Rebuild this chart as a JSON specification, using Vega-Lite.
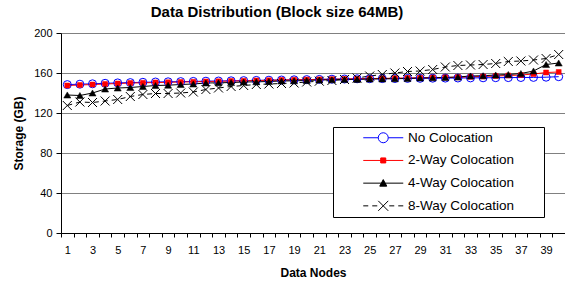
{
  "$schema": "https://vega.github.io/schema/vega-lite/v6.json",
  "autosize": {"type": "none"},
  "width": 504,
  "height": 200,
  "padding": {"left": 61, "top": 33, "right": 0, "bottom": 50},
  "background": "white",
  "config": {"font": "Liberation Sans", "view": {"stroke": null}},
  "title": {"text": "Data Distribution (Block size 64MB)", "fontSize": 15, "fontWeight": "bold", "font": "Liberation Sans", "anchor": "middle", "dx": -36, "offset": 7, "color": "black"},
  "data": {"values": [
{"node":1,"series":"No Colocation","gb":148.4},{"node":2,"series":"No Colocation","gb":148.8},{"node":3,"series":"No Colocation","gb":149.2},{"node":4,"series":"No Colocation","gb":149.7},{"node":5,"series":"No Colocation","gb":150.1},{"node":6,"series":"No Colocation","gb":150.4},{"node":7,"series":"No Colocation","gb":150.7},{"node":8,"series":"No Colocation","gb":151},{"node":9,"series":"No Colocation","gb":151.2},{"node":10,"series":"No Colocation","gb":151.4},{"node":11,"series":"No Colocation","gb":151.6},{"node":12,"series":"No Colocation","gb":151.8},{"node":13,"series":"No Colocation","gb":152},{"node":14,"series":"No Colocation","gb":152.2},{"node":15,"series":"No Colocation","gb":152.4},{"node":16,"series":"No Colocation","gb":152.6},{"node":17,"series":"No Colocation","gb":152.8},{"node":18,"series":"No Colocation","gb":153},{"node":19,"series":"No Colocation","gb":153.2},{"node":20,"series":"No Colocation","gb":153.4},{"node":21,"series":"No Colocation","gb":153.6},{"node":22,"series":"No Colocation","gb":153.8},{"node":23,"series":"No Colocation","gb":154},{"node":24,"series":"No Colocation","gb":154.2},{"node":25,"series":"No Colocation","gb":154.3},{"node":26,"series":"No Colocation","gb":154.4},{"node":27,"series":"No Colocation","gb":154.5},{"node":28,"series":"No Colocation","gb":154.6},{"node":29,"series":"No Colocation","gb":154.7},{"node":30,"series":"No Colocation","gb":154.8},{"node":31,"series":"No Colocation","gb":154.9},{"node":32,"series":"No Colocation","gb":155},{"node":33,"series":"No Colocation","gb":155.1},{"node":34,"series":"No Colocation","gb":155.2},{"node":35,"series":"No Colocation","gb":155.3},{"node":36,"series":"No Colocation","gb":155.4},{"node":37,"series":"No Colocation","gb":155.5},{"node":38,"series":"No Colocation","gb":155.6},{"node":39,"series":"No Colocation","gb":155.8},{"node":40,"series":"No Colocation","gb":156.3},
{"node":1,"series":"2-Way Colocation","gb":147.5},{"node":2,"series":"2-Way Colocation","gb":148},{"node":3,"series":"2-Way Colocation","gb":148.5},{"node":4,"series":"2-Way Colocation","gb":149},{"node":5,"series":"2-Way Colocation","gb":149.5},{"node":6,"series":"2-Way Colocation","gb":150},{"node":7,"series":"2-Way Colocation","gb":150.2},{"node":8,"series":"2-Way Colocation","gb":150.5},{"node":9,"series":"2-Way Colocation","gb":150.7},{"node":10,"series":"2-Way Colocation","gb":151},{"node":11,"series":"2-Way Colocation","gb":151.2},{"node":12,"series":"2-Way Colocation","gb":151.5},{"node":13,"series":"2-Way Colocation","gb":151.7},{"node":14,"series":"2-Way Colocation","gb":152},{"node":15,"series":"2-Way Colocation","gb":152.2},{"node":16,"series":"2-Way Colocation","gb":152.5},{"node":17,"series":"2-Way Colocation","gb":152.7},{"node":18,"series":"2-Way Colocation","gb":153},{"node":19,"series":"2-Way Colocation","gb":153.2},{"node":20,"series":"2-Way Colocation","gb":153.4},{"node":21,"series":"2-Way Colocation","gb":153.6},{"node":22,"series":"2-Way Colocation","gb":153.8},{"node":23,"series":"2-Way Colocation","gb":154},{"node":24,"series":"2-Way Colocation","gb":154.2},{"node":25,"series":"2-Way Colocation","gb":154.4},{"node":26,"series":"2-Way Colocation","gb":154.6},{"node":27,"series":"2-Way Colocation","gb":154.8},{"node":28,"series":"2-Way Colocation","gb":155},{"node":29,"series":"2-Way Colocation","gb":155.2},{"node":30,"series":"2-Way Colocation","gb":155.4},{"node":31,"series":"2-Way Colocation","gb":155.6},{"node":32,"series":"2-Way Colocation","gb":155.8},{"node":33,"series":"2-Way Colocation","gb":156.2},{"node":34,"series":"2-Way Colocation","gb":156.5},{"node":35,"series":"2-Way Colocation","gb":157},{"node":36,"series":"2-Way Colocation","gb":157.5},{"node":37,"series":"2-Way Colocation","gb":158},{"node":38,"series":"2-Way Colocation","gb":159},{"node":39,"series":"2-Way Colocation","gb":160.5},{"node":40,"series":"2-Way Colocation","gb":161},
{"node":1,"series":"4-Way Colocation","gb":138},{"node":2,"series":"4-Way Colocation","gb":137.5},{"node":3,"series":"4-Way Colocation","gb":140},{"node":4,"series":"4-Way Colocation","gb":144},{"node":5,"series":"4-Way Colocation","gb":145},{"node":6,"series":"4-Way Colocation","gb":145.5},{"node":7,"series":"4-Way Colocation","gb":146.5},{"node":8,"series":"4-Way Colocation","gb":147.5},{"node":9,"series":"4-Way Colocation","gb":147.8},{"node":10,"series":"4-Way Colocation","gb":148.5},{"node":11,"series":"4-Way Colocation","gb":149},{"node":12,"series":"4-Way Colocation","gb":150},{"node":13,"series":"4-Way Colocation","gb":150.2},{"node":14,"series":"4-Way Colocation","gb":150.5},{"node":15,"series":"4-Way Colocation","gb":151},{"node":16,"series":"4-Way Colocation","gb":151.2},{"node":17,"series":"4-Way Colocation","gb":151.5},{"node":18,"series":"4-Way Colocation","gb":152},{"node":19,"series":"4-Way Colocation","gb":152.2},{"node":20,"series":"4-Way Colocation","gb":152.5},{"node":21,"series":"4-Way Colocation","gb":153},{"node":22,"series":"4-Way Colocation","gb":153.2},{"node":23,"series":"4-Way Colocation","gb":153.5},{"node":24,"series":"4-Way Colocation","gb":153.6},{"node":25,"series":"4-Way Colocation","gb":154},{"node":26,"series":"4-Way Colocation","gb":154.1},{"node":27,"series":"4-Way Colocation","gb":154.3},{"node":28,"series":"4-Way Colocation","gb":154.5},{"node":29,"series":"4-Way Colocation","gb":155},{"node":30,"series":"4-Way Colocation","gb":155.2},{"node":31,"series":"4-Way Colocation","gb":155.5},{"node":32,"series":"4-Way Colocation","gb":156},{"node":33,"series":"4-Way Colocation","gb":157},{"node":34,"series":"4-Way Colocation","gb":157.3},{"node":35,"series":"4-Way Colocation","gb":158},{"node":36,"series":"4-Way Colocation","gb":158.5},{"node":37,"series":"4-Way Colocation","gb":159.5},{"node":38,"series":"4-Way Colocation","gb":162},{"node":39,"series":"4-Way Colocation","gb":168.5},{"node":40,"series":"4-Way Colocation","gb":170},
{"node":1,"series":"8-Way Colocation","gb":127.5},{"node":2,"series":"8-Way Colocation","gb":131},{"node":3,"series":"8-Way Colocation","gb":130.5},{"node":4,"series":"8-Way Colocation","gb":132},{"node":5,"series":"8-Way Colocation","gb":133.5},{"node":6,"series":"8-Way Colocation","gb":136.5},{"node":7,"series":"8-Way Colocation","gb":138.5},{"node":8,"series":"8-Way Colocation","gb":139.5},{"node":9,"series":"8-Way Colocation","gb":139.5},{"node":10,"series":"8-Way Colocation","gb":140},{"node":11,"series":"8-Way Colocation","gb":141},{"node":12,"series":"8-Way Colocation","gb":143.5},{"node":13,"series":"8-Way Colocation","gb":145},{"node":14,"series":"8-Way Colocation","gb":146.5},{"node":15,"series":"8-Way Colocation","gb":147.5},{"node":16,"series":"8-Way Colocation","gb":148.5},{"node":17,"series":"8-Way Colocation","gb":149},{"node":18,"series":"8-Way Colocation","gb":149.5},{"node":19,"series":"8-Way Colocation","gb":150},{"node":20,"series":"8-Way Colocation","gb":151},{"node":21,"series":"8-Way Colocation","gb":151.8},{"node":22,"series":"8-Way Colocation","gb":152.5},{"node":23,"series":"8-Way Colocation","gb":153.5},{"node":24,"series":"8-Way Colocation","gb":155},{"node":25,"series":"8-Way Colocation","gb":157},{"node":26,"series":"8-Way Colocation","gb":158.5},{"node":27,"series":"8-Way Colocation","gb":160},{"node":28,"series":"8-Way Colocation","gb":161.5},{"node":29,"series":"8-Way Colocation","gb":162},{"node":30,"series":"8-Way Colocation","gb":163.5},{"node":31,"series":"8-Way Colocation","gb":166},{"node":32,"series":"8-Way Colocation","gb":167.5},{"node":33,"series":"8-Way Colocation","gb":168},{"node":34,"series":"8-Way Colocation","gb":168.5},{"node":35,"series":"8-Way Colocation","gb":169.5},{"node":36,"series":"8-Way Colocation","gb":171.5},{"node":37,"series":"8-Way Colocation","gb":172},{"node":38,"series":"8-Way Colocation","gb":173},{"node":39,"series":"8-Way Colocation","gb":174.5},{"node":40,"series":"8-Way Colocation","gb":178.5}
  ]},
  "encoding": {
    "x": {"field": "node", "type": "ordinal", "title": "Data Nodes",
      "scale": {"type": "band", "paddingInner": 0, "paddingOuter": 0},
      "axis": {"tickBand": "extent", "labelAngle": 0, "labelExpr": "datum.value % 2 == 1 ? datum.label : ''",
        "labelFontSize": 11, "labelColor": "black", "labelFont": "Liberation Sans", "labelPadding": 7,
        "tickSize": 4, "tickColor": "black", "domainColor": "black", "grid": false,
        "titleFontSize": 12, "titleFontWeight": "bold", "titleColor": "black", "titleFont": "Liberation Sans", "titlePadding": 12}},
    "y": {"field": "gb", "type": "quantitative", "title": "Storage (GB)",
      "scale": {"domain": [0, 200], "nice": false, "zero": true},
      "axis": {"values": [0, 40, 80, 120, 160, 200], "grid": true, "gridColor": "#808080", "gridWidth": 1,
        "labelFontSize": 11, "labelColor": "black", "labelFont": "Liberation Sans", "labelPadding": 4,
        "tickSize": 5, "tickColor": "black", "domainColor": "black",
        "titleFontSize": 12, "titleFontWeight": "bold", "titleColor": "black", "titleFont": "Liberation Sans", "titlePadding": 8}}
  },
  "layer": [
    {"transform": [{"filter": "datum.series == 'No Colocation'"}], "mark": {"type": "line", "stroke": "#0000FF", "strokeWidth": 1}},
    {"transform": [{"filter": "datum.series == '2-Way Colocation'"}], "mark": {"type": "line", "stroke": "#FF0000", "strokeWidth": 1}},
    {"transform": [{"filter": "datum.series == '4-Way Colocation'"}], "mark": {"type": "line", "stroke": "#000000", "strokeWidth": 1}},
    {"transform": [{"filter": "datum.series == '8-Way Colocation'"}], "mark": {"type": "line", "stroke": "#000000", "strokeWidth": 1, "strokeDash": [5, 4]}},
    {
      "transform": [{"filter": "datum.series == 'No Colocation'"}],
      "mark": {"type": "point", "shape": "circle", "filled": false, "stroke": "#0000FF", "size": 64, "strokeWidth": 1, "opacity": 1}
    },
    {
      "transform": [{"filter": "datum.series == '2-Way Colocation'"}],
      "mark": {"type": "point", "shape": "square", "filled": true, "fill": "#FF0000", "stroke": "#FF0000", "strokeWidth": 0.5, "size": 25, "opacity": 1}
    },
    {
      "transform": [{"filter": "datum.series == '4-Way Colocation'"}],
      "mark": {"type": "point", "shape": "triangle-up", "filled": true, "fill": "#000000", "stroke": "#000000", "strokeWidth": 0.5, "size": 50, "opacity": 1}
    },
    {
      "transform": [{"filter": "datum.series == '8-Way Colocation'"}],
      "mark": {"type": "point", "shape": "M-1,-1L1,1M-1,1L1,-1", "filled": false, "stroke": "#000000", "size": 81, "strokeWidth": 1, "opacity": 1}
    },
    {
      "mark": {"type": "point", "filled": true, "opacity": 0, "size": 100, "strokeWidth": 1},
      "encoding": {
        "shape": {"field": "series", "type": "nominal",
          "scale": {"domain": ["No Colocation", "2-Way Colocation", "4-Way Colocation", "8-Way Colocation"],
            "range": [
              "M-4,0H-1M1,0H4M-1,0A1,1 0 1,1 1,0A1,1 0 1,1 -1,0",
              "M-4,0H4M-0.5,-0.4H0.5M-0.5,-0.2H0.5M-0.5,0.2H0.5M-0.5,0.4H0.5M-0.5,-0.5H0.5V0.5H-0.5Z",
              "M-4,0H4M0,-0.7L0.7,0.6H-0.7ZM-0.06,-0.6H0.06M-0.16,-0.4H0.16M-0.27,-0.2H0.27M-0.49,0.2H0.49M-0.6,0.4H0.6",
              "M-4,0H-3M-2.2,0H-1.2M-1,-1L1,1M-1,1L1,-1M1.2,0H2.2M3,0H4"]},
          "legend": {"title": " ", "titleOrient": "right", "titlePadding": 26, "titleFontSize": 11,
            "orient": "none", "legendX": 272, "legendY": 94,
            "strokeColor": "black", "fillColor": "white", "padding": 4, "rowPadding": 7.7,
            "symbolSize": 100, "symbolOffset": 39.5, "labelOffset": 18, "symbolFillColor": "white",
            "labelFontSize": 13.5, "labelFont": "Liberation Sans", "labelColor": "black",
            "encode": {"symbols": {"update": {
              "strokeWidth": {"value": 1},
              "size": {"value": 100},
              "opacity": {"value": 1}
            }}}}
        },
        "fill": {"field": "series", "type": "nominal",
          "scale": {"domain": ["No Colocation", "2-Way Colocation", "4-Way Colocation", "8-Way Colocation"], "range": ["white", "#FF0000", "#000000", "transparent"]}},
        "stroke": {"field": "series", "type": "nominal",
          "scale": {"domain": ["No Colocation", "2-Way Colocation", "4-Way Colocation", "8-Way Colocation"], "range": ["#0000FF", "#FF0000", "#000000", "#000000"]}}
      }
    }
  ]
}
